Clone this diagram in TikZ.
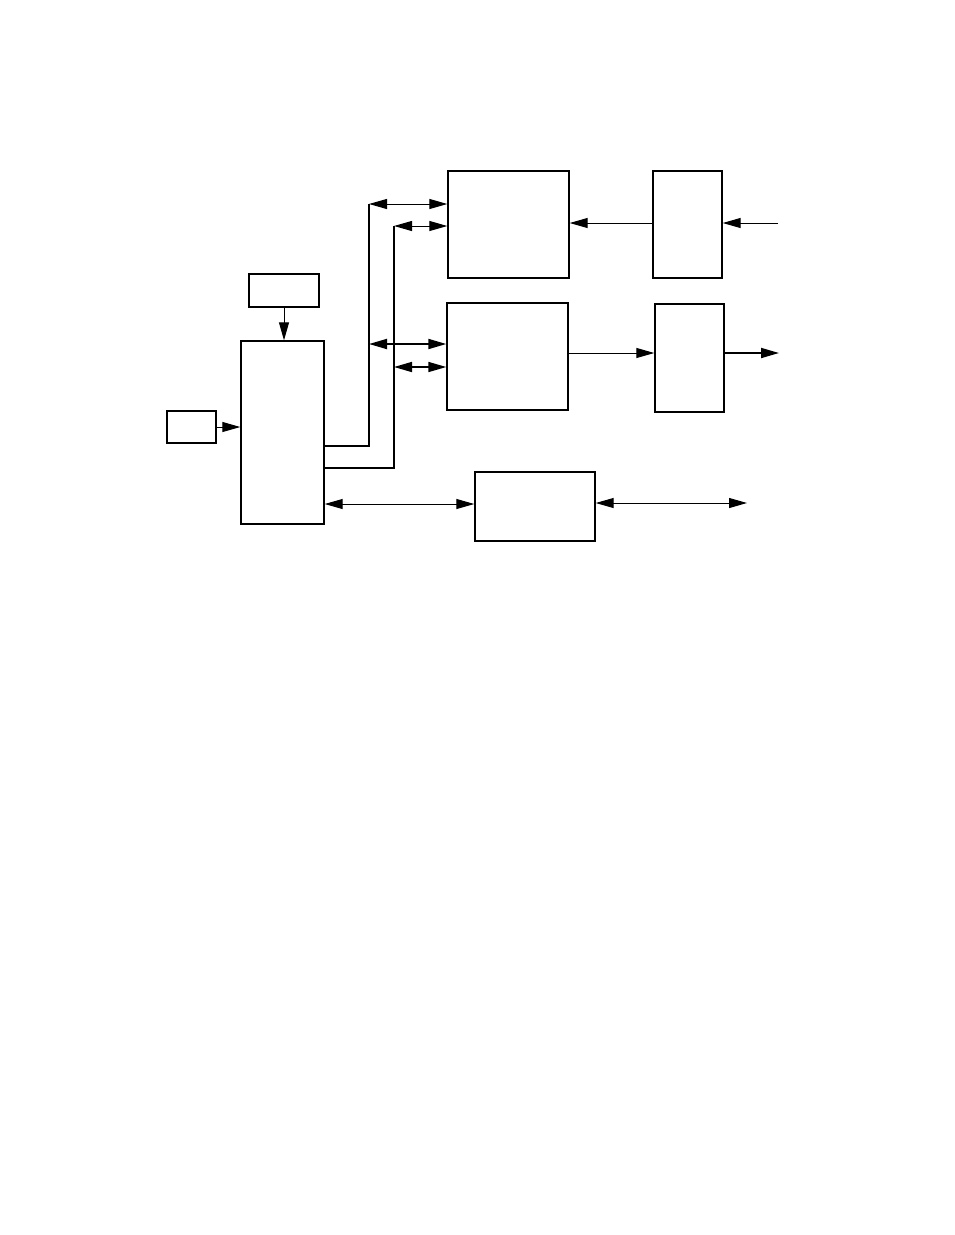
\documentclass[tikz,border=0pt]{standalone}
\usetikzlibrary{arrows.meta}

\begin{document}
\begin{tikzpicture}[x=1pt, y=-1pt,
        blk/.style={draw, line width=1.4pt, inner sep=0pt},
        con/.style={line width=1pt},
        >={Triangle[length=18pt, width=10pt]}]
                \useasboundingbox (0, 0) rectangle (954, 1235);

                \node[blk, minimum width=49, minimum height=32] (sensor) at (191.5, 427) {};
                \node[blk, minimum width=70, minimum height=33] (clock) at (284, 290.5) {};
                \node[blk, minimum width=83, minimum height=183] (ctrl) at (282.5, 432.5) {};
                \node[blk, minimum width=121, minimum height=107] (rxbuf) at (508.5, 224.5) {};
                \node[blk, minimum width=121, minimum height=107] (txbuf) at (507.5, 356.5) {};
                \node[blk, minimum width=120, minimum height=69] (port) at (535, 506.5) {};
                \node[blk, minimum width=69, minimum height=107] (rxdrv) at (687.5, 224.5) {};
                \node[blk, minimum width=69, minimum height=108] (txdrv) at (689.5, 358) {};

                \coordinate (busa) at (369, 204);
                \coordinate (busb) at (394, 226);
                \coordinate (busc) at (369, 344);
                \coordinate (busd) at (394, 367);
                \coordinate (rxin) at (778, 223);
                \coordinate (txout) at (779, 353);
                \coordinate (portout) at (747, 503);

                \draw[con]
                (sensor.east) edge[->] (ctrl.west |- sensor.east)
                (clock.south) edge[->] (clock.south |- ctrl.north);

                \draw[line width=1.8pt]
                (ctrl.east |- 0, 446) -| (busa)
                (ctrl.east |- 0, 468) -| (busb);

                \draw[con]
                (busa) edge[<->] (rxbuf.west |- busa)
                (busb) edge[<->] (rxbuf.west |- busb)
                (busc) edge[<->, line width=1.8pt] (txbuf.west |- busc)
                (busd) edge[<->, line width=1.6pt] (txbuf.west |- busd)
                (ctrl.east |- 0, 504) edge[<->] (port.west |- 0, 504);

                \draw[con]
                (rxdrv.west |- rxin) edge[->] (rxbuf.east |- rxin)
                (rxin) edge[->] (rxdrv.east |- rxin)
                (txbuf.east |- txout) edge[->] (txdrv.west |- txout)
                (txdrv.east |- txout) edge[->, line width=1.8pt] (txout)
                (port.east |- portout) edge[<->] (portout);
\end{tikzpicture}
\end{document}
